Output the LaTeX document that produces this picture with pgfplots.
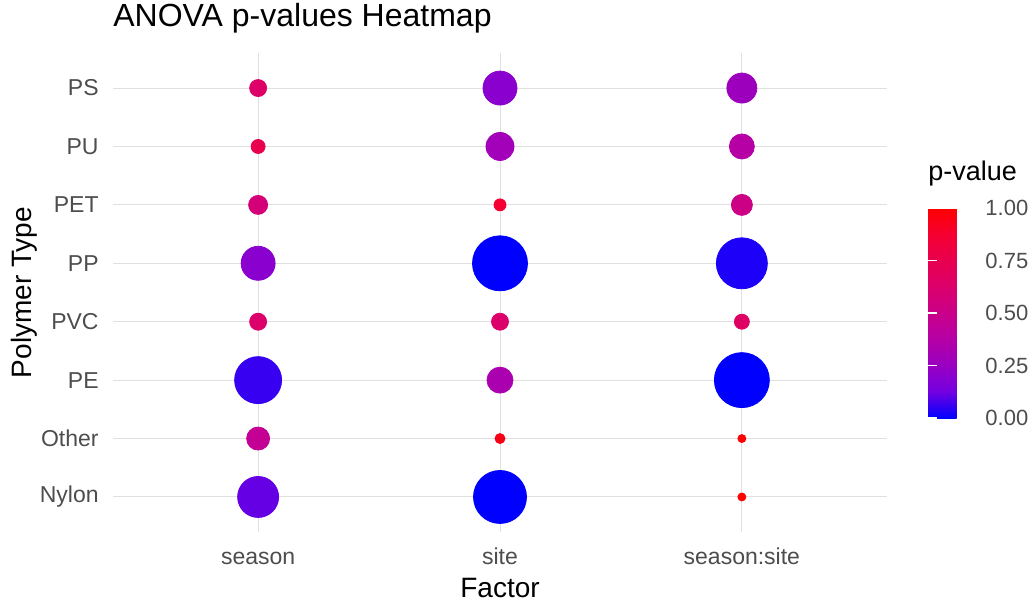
\documentclass[border=0pt]{standalone}
\usepackage{pgfplots}
\pgfplotsset{compat=1.18}
\usepackage{pgfplotstable}
\usetikzlibrary{calc}
\usepackage{fontspec}
\setmainfont{Liberation Sans}
\definecolor{ticktext}{HTML}{4D4D4D}
\definecolor{gridc}{HTML}{E0E0E0}

% x: 0=season, 1=site, 2=season:site ; y: 1=Nylon ... 8=PS
% p = p-value (colour), d = bubble diameter (px)
\pgfplotstableread{
x y p d
0 8 0.64 17
0 7 0.76 14
0 6 0.57 19
0 5 0.20 34
0 4 0.63 17
0 3 0.06 47
0 2 0.46 23
0 1 0.11 41
1 8 0.20 34
1 7 0.29 28
1 6 0.87 12
1 5 0.00 55
1 4 0.63 17
1 3 0.33 26
1 2 0.95 10
1 1 0.00 53
2 8 0.27 30
2 7 0.38 25
2 6 0.52 21
2 5 0.03 51
2 4 0.66 15
2 3 0.00 55
2 2 1.00 8
2 1 1.00 8
}\anovadata

\pgfplotsset{
  colormap={bluered}{
    rgb=(0,0,1)
    rgb=(0.45,0,0.88)
    rgb=(0.60,0,0.76)
    rgb=(0.71,0,0.65)
    rgb=(0.79,0,0.54)
    rgb=(0.86,0,0.42)
    rgb=(0.91,0,0.31)
    rgb=(0.96,0,0.19)
    rgb=(1,0,0)
  }
}

\begin{document}
\begin{tikzpicture}
\useasboundingbox (-56.5pt,-35pt) rectangle (460pt,266pt);
\begin{axis}[
  at={(0,0)}, anchor=south west,
  scale only axis,
  width=387pt, height=239.5pt,
  xmin=-0.6, xmax=2.6,
  ymin=0.4, ymax=8.6,
  axis line style={draw=none},
  xtick={0,1,2},
  xticklabels={season,site,season:site},
  ytick={1,2,3,4,5,6,7,8},
  yticklabels={Nylon,Other,PE,PVC,PP,PET,PU,PS},
  major tick length=0pt,
  tick style={draw=none},
  grid=major,
  major grid style={draw=gridc, line width=0.5pt},
  xticklabel style={font=\fontsize{11.5}{13}\selectfont, text=ticktext, inner sep=0pt, anchor=base, yshift=-16pt},
  yticklabel style={font=\fontsize{11.5}{13}\selectfont, text=ticktext, inner sep=0pt, anchor=east, xshift=-7pt},
  title={ANOVA p-values Heatmap},
  title style={at={(axis description cs:0,1.0313)}, anchor=base west, inner sep=0pt, font=\fontsize{16}{19}\selectfont},
  xlabel={Factor},
  xlabel style={at={(axis description cs:0.5,-0.1357)}, anchor=base, inner sep=0pt, font=\fontsize{14}{16}\selectfont},
  ylabel={Polymer Type},
  ylabel style={at={(axis description cs:-0.1047,0.5)}, rotate=0, anchor=base, inner sep=0pt, font=\fontsize{14}{16}\selectfont},
  colormap name=bluered,
  point meta min=0, point meta max=1,
  colorbar,
  colorbar style={
    name=cb,
    at={(parent axis.north east)}, anchor=north west,
    xshift=12pt, yshift=-77.5pt,
    width=21.5pt, height=105pt,
    scale only axis,
    xmin=0, xmax=1, ymin=0, ymax=1,
    enlargelimits=false,
    axis line style={draw=none},
    grid=none,
    ytick={0,0.25,0.5,0.75,1},
    yticklabels={0.00,0.25,0.50,0.75,1.00},
    yticklabel pos=right,
    major tick length=0pt,
    tick style={draw=none},
    yticklabel style={font=\fontsize{11}{13}\selectfont, text=ticktext, inner sep=0pt, anchor=west, xshift=7pt},
    title={p-value},
    title style={at={(axis description cs:0,1)}, anchor=base west, inner sep=0pt, yshift=8pt, font=\fontsize{13.5}{15}\selectfont},
  },
]
\addplot[
  scatter, only marks, mark=*,
  point meta=explicit,
  scatter/use mapped color={draw=mapped color, fill=mapped color},
  visualization depends on={\thisrow{d} \as \dia},
  scatter/@pre marker code/.append style={/tikz/mark size=\dia/4},
] table[x=x, y=y, meta=p] {\anovadata};
\end{axis}
% colourbar tick notches (white, as in ggplot's guide_colourbar)
\foreach \t in {0,0.25,0.5,0.75,1} {
  \draw[white, line width=0.7pt] ($(cb.south west)!\t!(cb.north west)$) -- ++(4.3pt,0);
  \draw[white, line width=0.7pt] ($(cb.south east)!\t!(cb.north east)$) -- ++(-4.3pt,0);
}
\end{tikzpicture}
\end{document}
